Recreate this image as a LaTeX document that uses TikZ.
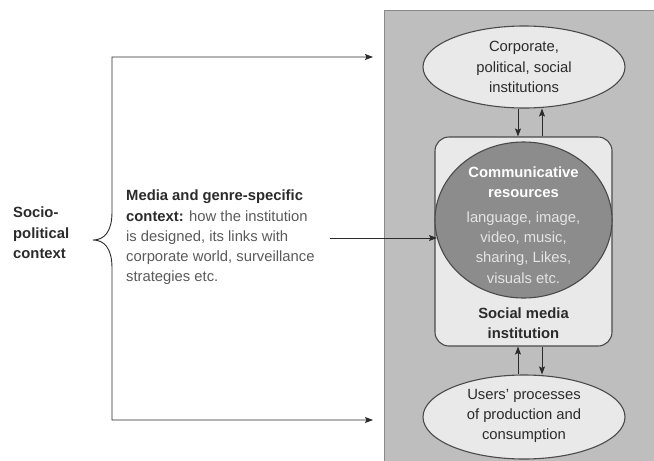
\documentclass[tikz,border=0pt]{standalone}
\usepackage{fontspec}
\setmainfont{Liberation Sans}
\usetikzlibrary{arrows.meta,shapes.geometric}
\definecolor{panelgray}{HTML}{BEBEBE}
\definecolor{panelline}{HTML}{8A8A8A}
\definecolor{lightfill}{HTML}{E9E9E9}
\definecolor{darkfill}{HTML}{8C8C8C}
\definecolor{shapeline}{HTML}{4A4A4A}
\definecolor{inktext}{HTML}{2B2B2B}
\definecolor{softtext}{HTML}{5A5A5A}
\definecolor{palelist}{HTML}{E4E4E4}
\begin{document}
\begin{tikzpicture}[x=1pt,y=-1pt,
  txt/.style={font=\fontsize{14.8}{20.3}\selectfont, inner sep=0pt, align=center},
  lightell/.style={ellipse, draw=shapeline, fill=lightfill, line width=1.1pt, inner sep=0pt},
  darkell/.style={ellipse, draw=shapeline, fill=darkfill, line width=1.1pt, inner sep=0pt},
  smbox/.style={rectangle, rounded corners=14pt, draw=shapeline, fill=lightfill, line width=1.1pt, inner sep=0pt},
  conn/.style={draw=inktext, line width=0.9pt},
  tip/.style={-{Stealth[length=8pt,width=6pt,inset=1.5pt]}},
  bothtips/.style={{Stealth[length=8pt,width=6pt,inset=1.5pt]}-{Stealth[length=8pt,width=6pt,inset=1.5pt]}}
]
\useasboundingbox (0,0) rectangle (654,461);

% grey institutional panel
\fill[panelgray] (384,10) rectangle (670,480);
\draw[panelline, line width=1pt] (384,480) -- (384,10) -- (670,10);

% shapes
\node[lightell, minimum width=202pt, minimum height=82pt] (corp) at (524,67) {};
\node[smbox, minimum width=177pt, minimum height=209pt] (smi) at (523.5,241.5) {};
\node[darkell, minimum width=177pt, minimum height=156pt] (comm) at (523.5,220) {};
\node[lightell, minimum width=202pt, minimum height=84pt] (users) at (524,417) {};

% texts on the right
\node[txt, text=inktext] (corptext) at (524,67) {Corporate,\\political, social\\institutions};
\node[txt, text=palelist] (commtext) at (523.5,225)
  {\textcolor{white}{\textbf{Communicative}}\\\textcolor{white}{\textbf{resources}}\\[4pt]language, image,\\video, music,\\sharing, Likes,\\visuals etc.};
\node[txt, text=inktext, font=\fontsize{14.8}{20.3}\selectfont\bfseries] (smitext) at (523.5,323) {Social media\\institution};
\node[txt, text=inktext] (userstext) at (524,416) {Users' processes\\of production and\\consumption};

% texts on the left
\node[txt, text=inktext, align=left, anchor=west, font=\fontsize{14.8}{20.3}\selectfont\bfseries] (socio) at (13,233) {Socio-\\political\\context};
\node[txt, text=softtext, align=left, anchor=west] (media) at (126,237.5)
  {\textcolor{inktext}{\textbf{Media and genre-specific}}\\\textcolor{inktext}{\textbf{context:}} how the institution\\is designed, its links with\\corporate world, surveillance\\strategies etc.};

% brace with its two arrows
\coordinate (toparrow) at (373,57);
\coordinate (btop) at (112,57);
\coordinate (bup) at (112,212);
\coordinate (btip) at (93,240);
\coordinate (blow) at (112,268);
\coordinate (bbot) at (112,420);
\coordinate (botarrow) at (373,420);
\draw[conn, bothtips] (toparrow) -- (btop) -- (bup)
  .. controls (112,232) and (104,240) .. (btip)
  .. controls (104,240) and (112,248) .. (blow) -- (bbot) -- (botarrow);

% media context into the communicative resources
\coordinate (mstart) at (330,238);
\draw[conn, tip] (mstart) -- (mstart -| comm.192);

% exchanges with the institution
\draw[conn, tip] ([xshift=-6pt]corp.south) -- ([xshift=-6pt]corp.south |- smi.north);
\draw[conn, tip] ([xshift=18pt]corp.south |- smi.north) -- ([xshift=18pt]corp.south);
\draw[conn, tip] ([xshift=-6pt]users.north) -- ([xshift=-6pt]users.north |- smi.south);
\draw[conn, tip] ([xshift=18pt]users.north |- smi.south) -- ([xshift=18pt]users.north);
\end{tikzpicture}
\end{document}
